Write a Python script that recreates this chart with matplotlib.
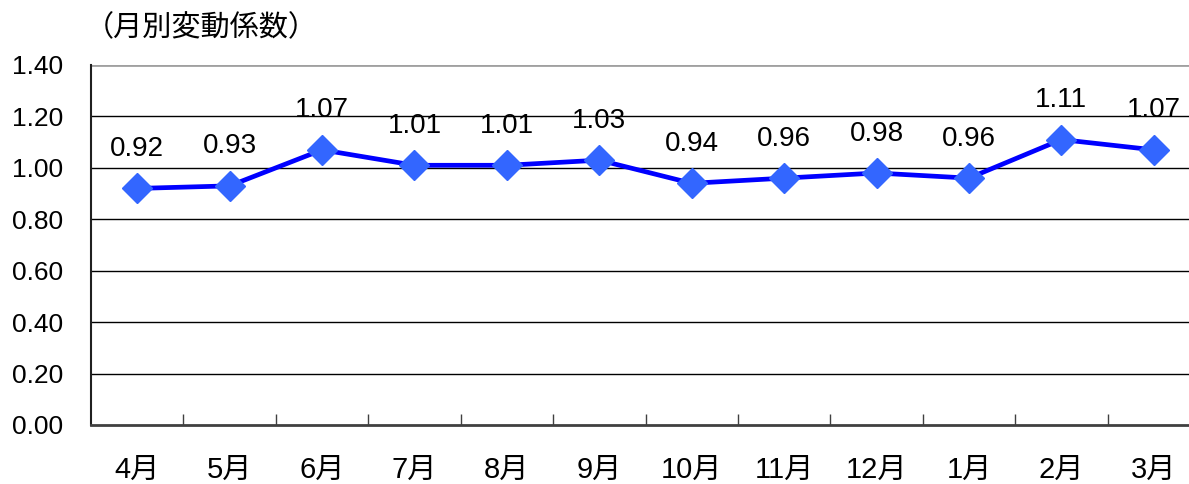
import numpy as np
import matplotlib.pyplot as plt

plt.rcParams['font.family'] = ['Liberation Sans', 'Noto Sans CJK JP', 'DejaVu Sans']

months = ['4月', '5月', '6月', '7月', '8月', '9月', '10月', '11月', '12月', '1月', '2月', '3月']
coef = [0.92, 0.93, 1.07, 1.01, 1.01, 1.03, 0.94, 0.96, 0.98, 0.96, 1.11, 1.07]
y_ticks = [0.0, 0.2, 0.4, 0.6, 0.8, 1.0, 1.2, 1.4]

W, H = 1189, 484
fig = plt.figure(figsize=(W / 100, H / 100), dpi=100)
ax = fig.add_axes([91 / W, 1 - 425 / H, (1200 - 91) / W, (425 - 65) / H])

x = np.arange(len(months))

# grid lines
for yv in y_ticks[1:-1]:
    ax.axhline(yv, color='black', lw=1.0, zorder=1)
ax.axhline(y_ticks[-1], color='#a0a0a0', lw=2.0, zorder=1)

ax.plot(x, coef, color='#0000ff', lw=3.4, marker='D', markersize=15,
        markerfacecolor='#3366ff', markeredgecolor='#3366ff', zorder=3, clip_on=False)

for xi, v in zip(x, coef):
    ax.annotate(f'{v:.2f}', (xi, v), xytext=(0, 19), textcoords='offset points',
                ha='center', va='bottom', fontsize=20)

ax.set_xlim(-0.5, len(months) - 0.5)
ax.set_ylim(0, 1.4)
ax.set_yticks(y_ticks)
ax.set_yticklabels([f'{v:.2f}' for v in y_ticks], fontsize=19)
ax.tick_params(axis='y', length=0, pad=20)

ax.set_xticks(np.arange(0.5, len(months) - 0.5, 1.0))
ax.set_xticklabels([])
ax.tick_params(axis='x', which='major', direction='in', length=8, width=1, color='#404040')
ax.set_xticks(x, minor=True)
ax.set_xticklabels(months, minor=True, fontsize=21)
ax.tick_params(axis='x', which='minor', length=0, pad=22)

for s in ['top', 'right']:
    ax.spines[s].set_visible(False)
ax.spines['left'].set_color('#202020')
ax.spines['left'].set_linewidth(1.5)
ax.spines['bottom'].set_color('#404040')
ax.spines['bottom'].set_linewidth(2.0)

fig.text(85 / W, 1 - 28 / H, '（月別変動係数）', fontsize=21, va='center', ha='left',
         family=['Noto Sans CJK JP'])

fig.savefig('out.png', dpi=100)
